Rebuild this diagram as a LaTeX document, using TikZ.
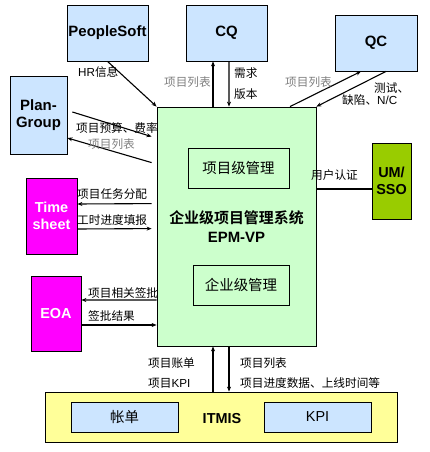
\documentclass[tikz,border=0pt]{standalone}
\usepackage{fontspec}
\setmainfont{Liberation Sans}
\newfontfamily\cjk{Noto Sans CJK SC}[BoldFont={Noto Sans CJK SC Bold}]
\usetikzlibrary{arrows.meta, calc}
\definecolor{sysblue}{HTML}{CCE5FF}
\definecolor{epmgreen}{HTML}{CCFFCC}
\definecolor{tsmagenta}{HTML}{FF00FF}
\definecolor{umolive}{HTML}{99CC00}
\definecolor{ityellow}{HTML}{FFFF99}
\definecolor{lblgray}{HTML}{808080}

\begin{document}
\begin{tikzpicture}[
    x=1bp, y=-1bp,
    >={Stealth[length=5bp, width=4bp]},
    box/.style={draw=black, line width=0.8bp, inner sep=0pt, align=center},
    sysbox/.style={box, fill=sysblue, font=\fontsize{15}{17}\selectfont\bfseries},
    magbox/.style={box, fill=tsmagenta, text=white, font=\fontsize{14.5}{16.5}\selectfont\bfseries},
    lbl/.style={anchor=west, inner sep=0pt, font=\fontsize{11.7}{13}\selectfont\cjk},
    graylbl/.style={lbl, text=lblgray},
    arr/.style={->, line width=1.1bp},
  ]

  % Frame
  \useasboundingbox (0,0) rectangle (429,452);

  % === Outer systems ===
  \node[sysbox, minimum width=81bp, minimum height=56bp] (peoplesoft) at (107.5,33) {PeopleSoft};
  \node[sysbox, minimum width=81bp, minimum height=56bp] (cq) at (226.5,33) {CQ};
  \node[sysbox, minimum width=82bp, minimum height=56bp] (qc) at (376,43) {QC};
  \node[sysbox, minimum width=57bp, minimum height=78bp] (plangroup) at (38.5,115) {Plan-\\Group};
  \node[magbox, minimum width=51bp, minimum height=76bp] (timesheet) at (51.5,216) {Time\\sheet};
  \node[magbox, minimum width=50bp, minimum height=75bp] (eoa) at (56,313.5) {EOA};
  \node[box, fill=umolive, font=\fontsize{14.5}{16.5}\selectfont\bfseries,
        minimum width=39bp, minimum height=76bp] (umsso) at (391.5,181) {UM/\\SSO};

  % === EPM-VP ===
  \node[box, fill=epmgreen, minimum width=159bp, minimum height=239bp] (epm) at (236.5,226.5) {};
  \node[box, fill=epmgreen, minimum width=101bp, minimum height=40bp,
        font=\fontsize{14.5}{16}\selectfont\cjk] (projmgmt) at (238.5,168) {项目级管理};
  \node[box, fill=epmgreen, minimum width=96bp, minimum height=40bp,
        font=\fontsize{14.5}{16}\selectfont\cjk] (entmgmt) at (241,285) {企业级管理};
  \node[align=center, inner sep=0pt, font=\fontsize{15}{19}\selectfont\bfseries] (epmtitle) at (236.5,227)
    {{\cjk 企业级项目管理系统}\\EPM-VP};

  % === ITMIS ===
  \node[box, fill=ityellow, minimum width=352bp, minimum height=50bp] (itmis) at (221,417) {};
  \node[box, fill=sysblue, minimum width=107bp, minimum height=30bp,
        font=\fontsize{14.5}{16}\selectfont\cjk] (bill) at (124.5,417) {帐单};
  \node[box, fill=sysblue, minimum width=107bp, minimum height=30bp,
        font=\fontsize{14.5}{16}\selectfont] (kpi) at (317.5,417) {KPI};
  \node[inner sep=0pt, font=\fontsize{14.5}{16}\selectfont\bfseries] (itmislabel) at (222,419) {ITMIS};

  % Connectors
  \draw[arr] (peoplesoft.south) -- (epm.north west);
  \draw[arr] ($(epm.north)+(-23.5,0)$) -- ($(cq.south)+(-13.5,0)$);
  \draw[arr] ($(cq.south)+(2.5,0)$) -- ($(epm.north)+(-7.5,0)$);
  \draw[arr] ($(epm.north)+(53.5,0)$) -- ($(qc.south)+(-15,0)$);
  \draw[arr] ($(qc.south)+(10,0)$) -- (epm.north east);
  \draw[arr] ($(plangroup.east)+(5,-3)$) -- ($(epm.north west)+(-5,30)$);
  \draw[arr] ($(epm.north west)+(-5,56)$) -- ($(plangroup.east)+(0,23)$);
  \draw[arr] ($(epm.north west)+(-5,97)$) -- ($(timesheet.east)+(0,-12)$);
  \draw[arr] ($(timesheet.east)+(0,13)$) -- ($(epm.north west)+(-5,122)$);
  \draw[arr] ($(epm.west)+(0,73.5)$) -- ($(eoa.east)+(0,-13.5)$);
  \draw[arr] ($(eoa.east)+(0,11.5)$) -- ($(epm.west)+(0,98.5)$);
  \draw[line width=1.1bp] ($(epm.east)+(0,-37.5)$) -- ($(umsso.west)+(0,8)$);
  \draw[arr] ($(itmis.north)+(-8,0)$) -- ($(epm.south)+(-23.5,0)$);
  \draw[arr] ($(epm.south)+(-7.5,0)$) -- ($(itmis.north)+(8,0)$);

  % Connector labels
  \node[lbl] (hrinfo) at (78,72) {\fontspec{Liberation Sans}HR{\cjk 信息}};
  \node[graylbl, anchor=east] (cqlist) at (211,82) {项目列表};
  \node[lbl] (cqreq) at (234,73) {需求};
  \node[lbl] (cqver) at (234,94) {版本};
  \node[graylbl] (qclist) at (285,82) {项目列表};
  \node[lbl] (qctest) at (374,88) {测试、};
  \node[lbl] (qcdefect) at (342,100) {缺陷、\fontspec{Liberation Sans}N/C};
  \node[lbl] (budget) at (76,128) {项目预算、费率};
  \node[graylbl] (planlist) at (88,144) {项目列表};
  \node[lbl] (tsassign) at (77,194) {项目任务分配};
  \node[lbl] (tsreport) at (77,220) {工时进度填报};
  \node[lbl] (eoaapprove) at (88,293) {项目相关签批};
  \node[lbl] (eoaresult) at (88,316) {签批结果};
  \node[lbl] (userauth) at (311,175) {用户认证};
  \node[lbl] (itbill) at (148,363) {项目账单};
  \node[lbl] (itkpi) at (148,383) {项目{\fontspec{Liberation Sans}KPI}};
  \node[lbl] (itlist) at (240,363) {项目列表};
  \node[lbl] (itprogress) at (240,383) {项目进度数据、上线时间等};

\end{tikzpicture}
\end{document}
